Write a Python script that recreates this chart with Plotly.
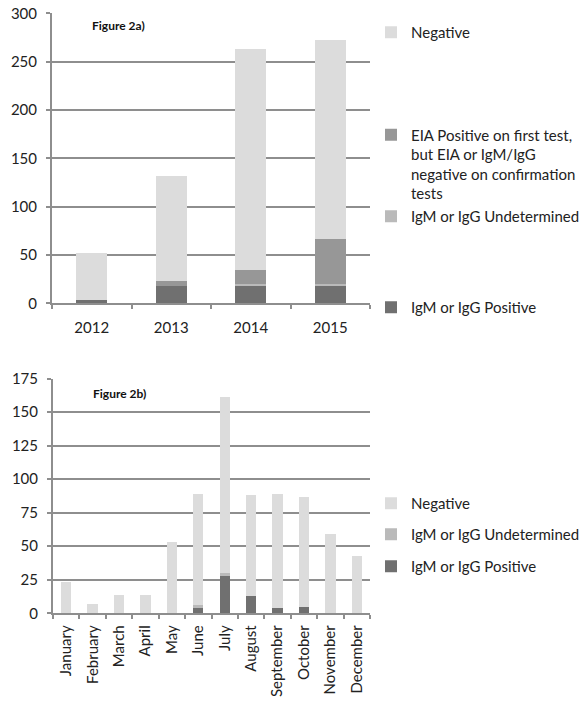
import plotly.graph_objects as go

# ---- Figure 2a data (by year) ----
years = ["2012", "2013", "2014", "2015"]
pos_year = [3, 18, 18, 18]
undet_year = [0, 0, 2, 2]
eia_year = [0, 5, 14, 47]
neg_year = [49, 109, 229, 205]

# ---- Figure 2b data (by month) ----
months = ["January", "February", "March", "April", "May", "June", "July",
          "August", "September", "October", "November", "December"]
pos_month = [0, 0, 0, 0, 0, 5, 28, 13, 4, 5, 0, 0]
undet_month = [0, 0, 0, 0, 0, 1, 2, 0, 0, 0, 0, 0]
neg_month = [23, 7, 14, 14, 53, 83, 131, 75, 85, 82, 59, 43]

y_ticks_a = [0, 50, 100, 150, 200, 250, 300]
y_ticks_b = [0, 25, 50, 75, 100, 125, 150, 175]

C_NEG = "#dcdcdc"
C_EIA = "#979797"
C_UND = "#bababa"
C_POS = "#707070"
GRID = "#8e8e8e"
FONT = "Lato"

W, H = 587, 702


def px_x(p):
    return p / W


def px_y(p):
    return 1 - p / H


fig = go.Figure()

# Top chart
fig.add_trace(go.Bar(x=years, y=pos_year, name="IgM or IgG Positive", marker_color=C_POS,
                     marker_line_width=0, legend="legend4", xaxis="x", yaxis="y"))
fig.add_trace(go.Bar(x=years, y=undet_year, name="IgM or IgG Undetermined", marker_color=C_UND,
                     marker_line_width=0, legend="legend3", xaxis="x", yaxis="y"))
fig.add_trace(go.Bar(x=years, y=eia_year,
                     name="EIA Positive on first test,<br>but EIA or IgM/IgG<br>negative on confirmation<br>tests",
                     marker_color=C_EIA, marker_line_width=0, legend="legend2", xaxis="x", yaxis="y"))
fig.add_trace(go.Bar(x=years, y=neg_year, name="Negative", marker_color=C_NEG,
                     marker_line_width=0, legend="legend", xaxis="x", yaxis="y"))

# Bottom chart
fig.add_trace(go.Bar(x=months, y=pos_month, name="IgM or IgG Positive", marker_color=C_POS,
                     marker_line_width=0, legend="legend7", xaxis="x2", yaxis="y2"))
fig.add_trace(go.Bar(x=months, y=undet_month, name="IgM or IgG Undetermined", marker_color=C_UND,
                     marker_line_width=0, legend="legend6", xaxis="x2", yaxis="y2"))
fig.add_trace(go.Bar(x=months, y=neg_month, name="Negative", marker_color=C_NEG,
                     marker_line_width=0, legend="legend5", xaxis="x2", yaxis="y2"))

axis_common = dict(showline=True, linecolor=GRID, linewidth=2,
                   tickfont=dict(family=FONT, size=15, color="#222"),
                   ticks="outside", tickcolor=GRID, tickwidth=2, ticklen=4,
                   fixedrange=True, automargin=False)

leg_font = dict(family=FONT, size=15, color="#222")


def leg(y_px, anchor="middle"):
    return dict(x=px_x(371), y=px_y(y_px), xanchor="left", yanchor=anchor,
                font=leg_font, bgcolor="rgba(0,0,0,0)", borderwidth=0,
                valign="top", itemclick=False)


fig.update_layout(
    width=W, height=H,
    margin=dict(l=0, r=0, t=0, b=0, autoexpand=False),
    paper_bgcolor="white", plot_bgcolor="white",
    barmode="stack", bargap=0.61,
    showlegend=True,
    xaxis=dict(domain=[px_x(52), px_x(370)], anchor="y", tickson="boundaries",
               ticklabelstandoff=10, **axis_common),
    yaxis=dict(domain=[px_y(303.3), px_y(13.3)], anchor="x", range=[0, 300],
               tickvals=y_ticks_a, showgrid=True, gridcolor=GRID, gridwidth=2,
               zeroline=False, ticklabelstandoff=6, **axis_common),
    xaxis2=dict(domain=[px_x(53), px_x(370)], anchor="y2", tickson="boundaries",
                tickangle=-90, ticklabelstandoff=4, **axis_common),
    yaxis2=dict(domain=[px_y(613.3), px_y(378.5)], anchor="x2", range=[0, 175],
                tickvals=y_ticks_b, showgrid=True, gridcolor=GRID, gridwidth=2,
                zeroline=False, ticklabelstandoff=6, **axis_common),
    legend=leg(32.5),
    legend2=leg(118.5, "top"),
    legend3=leg(216.5),
    legend4=leg(307.5),
    legend5=leg(503.5),
    legend6=leg(534.5),
    legend7=leg(566.5),
    annotations=[
        dict(text="<b>Figure 2a)</b>", x=px_x(90), y=px_y(25), xref="paper", yref="paper",
             xanchor="left", yanchor="middle", showarrow=False,
             font=dict(family=FONT, size=12, color="#111")),
        dict(text="<b>Figure 2b)</b>", x=px_x(91), y=px_y(393), xref="paper", yref="paper",
             xanchor="left", yanchor="middle", showarrow=False,
             font=dict(family=FONT, size=12, color="#111")),
    ],
)

fig.write_html("out.html")
